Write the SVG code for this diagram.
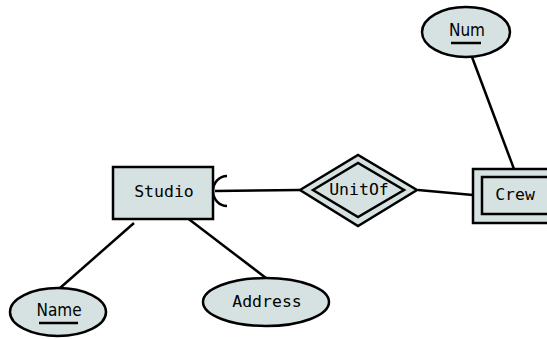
<svg xmlns="http://www.w3.org/2000/svg" width="547" height="339" viewBox="0 0 547 339">
<style>
.s{fill:#d6e2e1;stroke:#000;stroke-width:2.5}
.t{font-family:"DejaVu Sans Mono",monospace;font-size:16.5px;text-anchor:middle;dominant-baseline:central;fill:#000}
.u{font-family:"Liberation Sans Narrow","DejaVu Sans Condensed",sans-serif;font-size:17px;text-anchor:middle;fill:#000}
.l{stroke:#000;stroke-width:2.5;fill:none}
</style>
<rect width="547" height="339" fill="#fff"/>
<g id="connectors">
<line class="l" x1="134" y1="223" x2="60" y2="288"/>
<line class="l" x1="186" y1="217" x2="266" y2="278"/>
<line class="l" x1="215" y1="191" x2="300" y2="190"/>
<path class="l" d="M227,176 A14,15 0 0 0 227,206"/>
<line class="l" x1="418" y1="190" x2="473" y2="195"/>
<line class="l" x1="472" y1="57" x2="514" y2="169"/>
</g>
<g id="studio">
<rect class="s" x="113" y="167" width="100" height="52" stroke-width="3"/>
<text class="t" x="164" y="191">Studio</text>
</g>
<g id="unitof">
<polygon class="s" points="300,190 358,155 417,190 358,226"/>
<polygon class="s" points="313,190 358,163 404,190 358,217"/>
<text class="t" x="359" y="189">UnitOf</text>
</g>
<g id="crew">
<rect class="s" x="473" y="169" width="86" height="54" stroke-width="3"/>
<rect class="s" x="482" y="177" width="70" height="37" stroke-width="3"/>
<text class="t" x="515" y="194">Crew</text>
</g>
<g id="num">
<ellipse class="s" cx="466" cy="32" rx="44" ry="25"/>
<text class="u" x="467" y="36">Num</text>
<line x1="451" y1="43" x2="481" y2="43" stroke="#000" stroke-width="2.5"/>
</g>
<g id="name">
<ellipse class="s" cx="58" cy="312" rx="48" ry="24"/>
<text class="u" x="59" y="316">Name</text>
<line x1="39" y1="323" x2="78" y2="323" stroke="#000" stroke-width="2.5"/>
</g>
<g id="address">
<ellipse class="s" cx="266" cy="302" rx="63" ry="24"/>
<text class="t" x="267" y="301">Address</text>
</g>
</svg>
